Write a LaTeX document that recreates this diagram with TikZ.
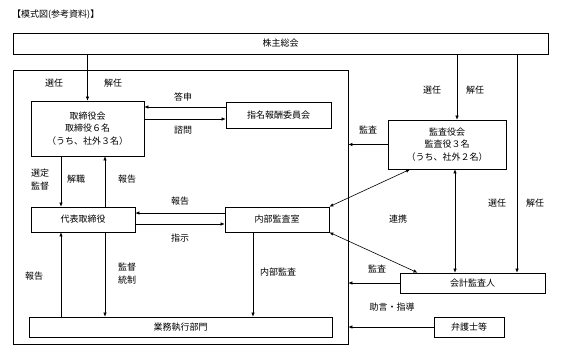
\documentclass[tikz,border=0pt]{standalone}
\usepackage{fontspec}
\setmainfont{Noto Sans CJK JP}
\usetikzlibrary{arrows.meta, calc}

\tikzset{
    box/.style={draw, line width=0.7pt, inner sep=1pt, align=center, font=\fontsize{9}{12.5}\selectfont},
    lbl/.style={inner sep=0pt, align=center, font=\fontsize{9}{13}\selectfont},
    arr/.style={line width=0.6pt, -{Latex[length=4pt,width=3.5pt]}},
    dblarr/.style={line width=0.6pt, {Latex[length=4pt,width=3.5pt]}-{Latex[length=4pt,width=3.5pt]}},
}

\begin{document}
\begin{tikzpicture}[x=1pt, y=-1pt]
    \useasboundingbox (0,0) rectangle (562,357);
    % Title
    \node[lbl, anchor=west] (title) at (12,15) {【模式図(参考資料)】};
    % Shareholders and company frame
    \node[box, minimum width=535pt, minimum height=21pt] (gms) at (280.5,43.5) {株主総会};
    \node[draw, line width=0.7pt, minimum width=335pt, minimum height=274pt] (corp) at (180.5,207) {};
    % Boxes inside the company
    \node[box, minimum width=113pt, minimum height=55pt] (board) at (87.5,128.5) {取締役会\\取締役６名\\（うち、社外３名）};
    \node[box, minimum width=105pt, minimum height=26pt] (nom) at (278.5,115) {指名報酬委員会};
    \node[box, minimum width=104pt, minimum height=25pt] (rep) at (83,219.5) {代表取締役};
    \node[box, minimum width=104pt, minimum height=25pt] (ia) at (277,219.5) {内部監査室};
    \node[box, minimum width=303pt, minimum height=20pt] (ops) at (180.5,327) {業務執行部門};
    % Boxes outside the company
    \node[box, minimum width=118pt, minimum height=49pt] (kansa) at (447,144.5) {監査役会\\監査役３名\\（うち、社外２名）};
    \node[box, minimum width=145pt, minimum height=20pt] (auditor) at (472.5,283) {会計監査人};
    \node[box, minimum width=70pt, minimum height=20pt] (lawyer) at (469,327) {弁護士等};
    % Shareholders -> board
    \draw[arr] (gms.south -| board.north) -- (board.north);
    \node[lbl] (l-sen1) at (54,83) {選任};
    \node[lbl] (l-kai1) at (113,83) {解任};
    % Board <-> nomination committee
    \draw[arr] ([yshift=8pt]nom.west) -- ([yshift=8pt]nom.west -| board.east);
    \draw[arr] ([yshift=-4pt]nom.west -| board.east) -- ([yshift=-4pt]nom.west);
    \node[lbl] (l-toushin) at (183,97) {答申};
    \node[lbl] (l-shimon) at (183,130) {諮問};
    % Board <-> representative director
    \draw[arr] ([xshift=-22pt]rep.north |- board.south) -- ([xshift=-22pt]rep.north);
    \draw[arr] ([xshift=22pt]rep.north) -- ([xshift=22pt]rep.north |- board.south);
    \node[lbl] (l-sentei) at (40,179.5) {選定\\監督};
    \node[lbl] (l-kaishoku) at (76,179) {解職};
    \node[lbl] (l-hou1) at (127,179) {報告};
    % Representative director <-> internal audit
    \draw[arr] ([yshift=6.5pt]ia.west) -- ([yshift=6.5pt]ia.west -| rep.east);
    \draw[arr] ([yshift=-4.5pt]ia.west -| rep.east) -- ([yshift=-4.5pt]ia.west);
    \node[lbl] (l-hou2) at (180,201) {報告};
    \node[lbl] (l-shiji) at (180,238) {指示};
    % Representative director <-> operations
    \draw[arr] ([xshift=22pt]rep.south) -- ([xshift=22pt]rep.south |- ops.north);
    \draw[arr] ([xshift=-22pt]rep.south |- ops.north) -- ([xshift=-22pt]rep.south);
    \node[lbl] (l-kantoku) at (127,273.5) {監督\\統制};
    \node[lbl] (l-hou3) at (34,276) {報告};
    % Internal audit -> operations
    \draw[arr] ([xshift=-24pt]ia.south) -- ([xshift=-24pt]ia.south |- ops.north);
    \node[lbl] (l-naibu) at (278,272) {内部監査};
    % Shareholders -> audit board
    \draw[arr] ([xshift=10pt]kansa.north |- gms.south) -- ([xshift=10pt]kansa.north);
    \node[lbl] (l-sen2) at (432,90) {選任};
    \node[lbl] (l-kai2) at (475,90) {解任};
    \draw[arr] (kansa.west) -- (kansa.west -| corp.east);
    \node[lbl] (l-kansa1) at (368,130) {監査};
    % Shareholders -> accounting auditor
    \draw[arr] ([xshift=44.5pt]auditor.north |- gms.south) -- ([xshift=44.5pt]auditor.north);
    \node[lbl] (l-sen3) at (497,203) {選任};
    \node[lbl] (l-kai3) at (535,203) {解任};
    % Cooperation
    \draw[dblarr] ([xshift=8pt]kansa.south) -- ([xshift=8pt]kansa.south |- auditor.north);
    \draw[dblarr] (ia.north east) -- ([xshift=-37pt]kansa.south);
    \draw[dblarr] (ia.south east) -- ([xshift=-55pt]auditor.north);
    \node[lbl] (l-renkei) at (398,219) {連携};
    % Accounting auditor and lawyers -> company
    \draw[arr] (auditor.west) -- (auditor.west -| corp.east);
    \node[lbl] (l-kansa2) at (377,269) {監査};
    \draw[arr] (lawyer.west) -- (lawyer.west -| corp.east);
    \node[lbl] (l-jogen) at (392,307) {助言・指導};
\end{tikzpicture}
\end{document}
